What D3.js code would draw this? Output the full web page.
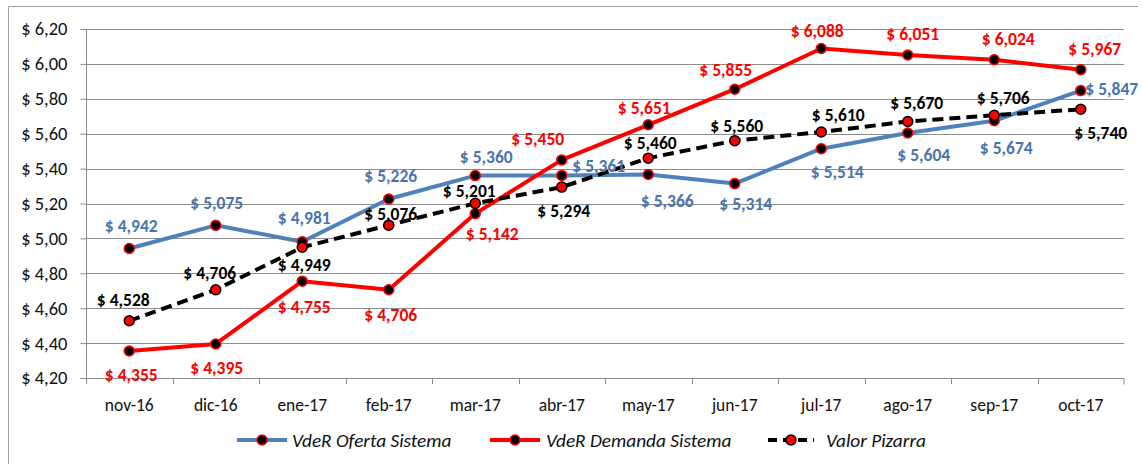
<!DOCTYPE html>
<html><head><meta charset="utf-8">
<script src="https://cdn.jsdelivr.net/npm/d3@7"></script>
<style>
html,body{margin:0;padding:0;background:#fff;}
svg{display:block;font-family:Carlito, Lato, "Open Sans", sans-serif;}
</style></head>
<body><svg id="c" width="1143" height="464"></svg>
<script>
const categories = ["nov-16","dic-16","ene-17","feb-17","mar-17","abr-17","may-17","jun-17","jul-17","ago-17","sep-17","oct-17"];
const oferta   = [4.942,5.075,4.981,5.226,5.360,5.361,5.366,5.314,5.514,5.604,5.674,5.847];
const demanda  = [4.355,4.395,4.755,4.706,5.142,5.450,5.651,5.855,6.088,6.051,6.024,5.967];
const pizarra  = [4.528,4.706,4.949,5.076,5.201,5.294,5.460,5.560,5.610,5.670,5.706,5.740];
const yTicks   = [4.20,4.40,4.60,4.80,5.00,5.20,5.40,5.60,5.80,6.00,6.20];
const seriesNames = ["VdeR Oferta Sistema","VdeR Demanda Sistema","Valor Pizarra"];

// label placement (style config, offsets from the point)
const offOferta  = [[2,-23],[1,-22],[2,-24],[2,-23],[11,-19],[37,-9],[19,26],[11,20],[16,23],[16,22],[12,27],[31,-2]];
const offDemanda = [[2,24],[1,24],[2,26],[2,25],[17,20],[-24,-21],[-4,-17],[-9,-19],[-4,-18],[5,-21],[14,-21],[14,-21]];
const offPizarra = [[-6,-21],[-6,-17],[2,18],[2,-11],[-6,-12],[2,24],[2,-15],[2,-15],[17,-17],[9,-18],[9,-17],[20,24]];

const svg = d3.select("#c");
const L = 86, R = 1124, T = 29, B = 378;
const x = d3.scaleBand().domain(categories).range([L, R]).padding(0);
const y = d3.scaleLinear().domain([4.2, 6.2]).range([B, T]);
const cx = d => x(d) + x.bandwidth()/2;
const grid = "#8c8c8c";

svg.append("path").attr("d", `M8.5,464 V6.5 H1138`).attr("fill","none").attr("stroke","#a0a0a0").attr("stroke-width",1);

svg.append("g").selectAll("line").data(yTicks).join("line")
  .attr("x1", L).attr("x2", R)
  .attr("y1", d => Math.round(y(d))+0.5).attr("y2", d => Math.round(y(d))+0.5)
  .attr("stroke", grid).attr("stroke-width", 1);

const yAxis = d3.axisLeft(y).tickValues(yTicks).tickSize(6).tickPadding(13)
  .tickFormat(d => "$ " + d.toFixed(2).replace(".", ","));
const gy = svg.append("g").attr("transform", `translate(${L+0.5},0)`).call(yAxis);
gy.select(".domain").attr("stroke", grid).attr("d", `M-6,${B+0.5}H0V${T}`);
gy.selectAll(".tick line").attr("stroke", grid);
gy.selectAll(".tick text").attr("font-size", 18.5).attr("fill", "#111").attr("font-family","Carlito, Lato, sans-serif");

const xAxis = d3.axisBottom(x).tickSize(0).tickPadding(20);
const gx = svg.append("g").attr("transform", `translate(0,${B+0.5})`).call(xAxis);
gx.select(".domain").attr("stroke", grid).attr("d", `M${L},0H${R}V6`);
gx.selectAll(".tick text").attr("font-size", 17.5).attr("fill", "#111").attr("font-family","Carlito, Lato, sans-serif");
svg.append("g").selectAll("line").data(categories).join("line")
  .attr("x1", d => Math.round(x(d))+0.5).attr("x2", d => Math.round(x(d))+0.5)
  .attr("y1", B).attr("y2", B+6).attr("stroke", grid);

const series = [
  {vals: oferta,  color:"#4F81BD", text:"#4A75AC", dash:null, mFill:"#000", mStroke:"#ff0000", off: offOferta},
  {vals: demanda, color:"#ff0000", text:"#ff0000", dash:null, mFill:"#000", mStroke:"#ff0000", off: offDemanda},
  {vals: pizarra, color:"#000000", text:"#000000", dash:"11,6", mFill:"#ff0000", mStroke:"#000", off: offPizarra}
];

const line = d3.line().x((d,i) => cx(categories[i])).y(d => y(d));

series.forEach(s => {
  const g = svg.append("g");
  g.append("path").datum(s.vals).attr("d", line).attr("fill","none")
    .attr("stroke", s.color).attr("stroke-width", 4).attr("stroke-dasharray", s.dash)
    .attr("stroke-linejoin","round");
  g.selectAll("circle").data(s.vals).join("circle")
    .attr("cx", (d,i) => cx(categories[i])).attr("cy", d => y(d)).attr("r", 5)
    .attr("fill", s.mFill).attr("stroke", s.mStroke).attr("stroke-width", 1.5);
});

series.forEach(s => {
  svg.append("g").selectAll("text").data(s.vals).join("text")
    .attr("x", (d,i) => cx(categories[i]) + s.off[i][0])
    .attr("y", (d,i) => y(d) + s.off[i][1])
    .attr("text-anchor","middle").attr("dominant-baseline","central")
    .attr("font-size", 17.5).attr("font-weight","bold").attr("fill", s.text)
    .text(d => "$ " + d.toFixed(3).replace(".", ","));
});

const legend = [
  {x1:237, x2:287, tx:292, s:series[0], name:seriesNames[0]},
  {x1:490, x2:540, tx:546, s:series[1], name:seriesNames[1]},
  {x1:768, x2:814, tx:826, s:series[2], name:seriesNames[2]}
];
const ly = 440;
legend.forEach(l => {
  svg.append("line").attr("x1", l.x1).attr("x2", l.x2).attr("y1", ly).attr("y2", ly)
    .attr("stroke", l.s.color).attr("stroke-width", 4).attr("stroke-dasharray", l.s.dash ? "9,6" : null);
  svg.append("circle").attr("cx", (l.x1+l.x2)/2).attr("cy", ly).attr("r", 5)
    .attr("fill", l.s.mFill).attr("stroke", l.s.mStroke).attr("stroke-width", 1.5);
  svg.append("text").attr("x", l.tx).attr("y", ly).attr("dominant-baseline","central")
    .attr("font-size", 19.3).attr("font-style","italic").attr("fill","#111").text(l.name);
});
</script></body></html>
